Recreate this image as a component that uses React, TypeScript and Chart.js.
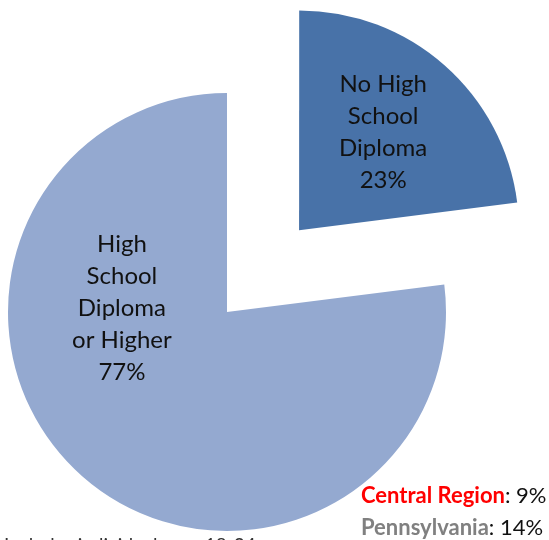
import React, { useEffect, useRef } from "react";
import { Chart, registerables } from "chart.js";

Chart.register(...registerables);

const categories = ["No High School Diploma", "High School Diploma or Higher"];
const values = [23, 77];
const sliceLabels = [
  ["No High", "School", "Diploma", "23%"],
  ["High", "School", "Diploma", "or Higher", "77%"],
];
const sliceColors = ["#4872A8", "#94A9D0"];
// Chart.js draws an arc shifted by offset/4 px
const sliceOffsets = [436, 0];
// label placement: angle (deg, clockwise from top) and distance (fraction of radius) from each arc's centre
const labelAngles = [40.6, -88];
const labelDist = [0.59, 0.48];
const noteLines = [
  { name: "Central Region", color: "#FF0000", value: ": 9%" },
  { name: "Pennsylvania", color: "#808080", value: ": 14%" },
];
const footnote = "Includes individuals age 18-24";

const FONT = "Lato, 'Open Sans', sans-serif";

const labelPlugin = {
  id: "sliceLabels",
  afterDatasetsDraw(chart: any) {
    const ctx = chart.ctx;
    const meta = chart.getDatasetMeta(0);
    ctx.save();
    meta.data.forEach((arc: any, i: number) => {
      const { x, y, outerRadius, startAngle, endAngle } = arc.getProps(
        ["x", "y", "outerRadius", "startAngle", "endAngle"],
        true
      );
      const half = (startAngle + endAngle) / 2;
      const off = sliceOffsets[i] / 4;
      const ox = x + Math.cos(half) * off;
      const oy = y + Math.sin(half) * off;
      const a = (labelAngles[i] * Math.PI) / 180;
      const d = labelDist[i] * outerRadius;
      const cx = ox + Math.sin(a) * d;
      const cy = oy - Math.cos(a) * d;
      const lines = sliceLabels[i];
      const lh = 32;
      ctx.fillStyle = "#111";
      ctx.font = `24px ${FONT}`;
      ctx.textAlign = "center";
      ctx.textBaseline = "middle";
      lines.forEach((t, k) => {
        ctx.fillText(t, cx, cy + (k - (lines.length - 1) / 2) * lh);
      });
    });
    // notes bottom right
    ctx.textAlign = "left";
    ctx.textBaseline = "middle";
    noteLines.forEach((n, k) => {
      const ny = 496 + k * 32;
      ctx.font = `bold 22px ${FONT}`;
      ctx.fillStyle = n.color;
      ctx.fillText(n.name, 361, ny);
      const w = ctx.measureText(n.name).width;
      ctx.font = `22px ${FONT}`;
      ctx.fillStyle = "#111";
      ctx.fillText(n.value, 361 + w, ny);
    });
    ctx.font = `19px ${FONT}`;
    ctx.fillStyle = "#333";
    ctx.textBaseline = "top";
    ctx.fillText(footnote, 4, 536);
    ctx.restore();
  },
};

export default function App() {
  const ref = useRef<HTMLCanvasElement>(null);
  useEffect(() => {
    if (!ref.current) return;
    const chart = new Chart(ref.current, {
      type: "pie",
      data: {
        labels: categories,
        datasets: [
          {
            data: values,
            backgroundColor: sliceColors,
            borderWidth: 0,
            offset: sliceOffsets,
            clip: false,
          } as any,
        ],
      },
      options: {
        animation: false,
        responsive: false,
        radius: 219,
        layout: { padding: { left: 0, right: 95, top: 84, bottom: 0 } },
        plugins: { legend: { display: false }, tooltip: { enabled: false } },
      } as any,
      plugins: [labelPlugin],
    });
    return () => chart.destroy();
  }, []);
  return (
    <div style={{ position: "fixed", left: 0, top: 0, width: 549, height: 540, background: "#fff" }}>
      <canvas ref={ref} width={549} height={540} style={{ width: 549, height: 540 }} />
    </div>
  );
}
